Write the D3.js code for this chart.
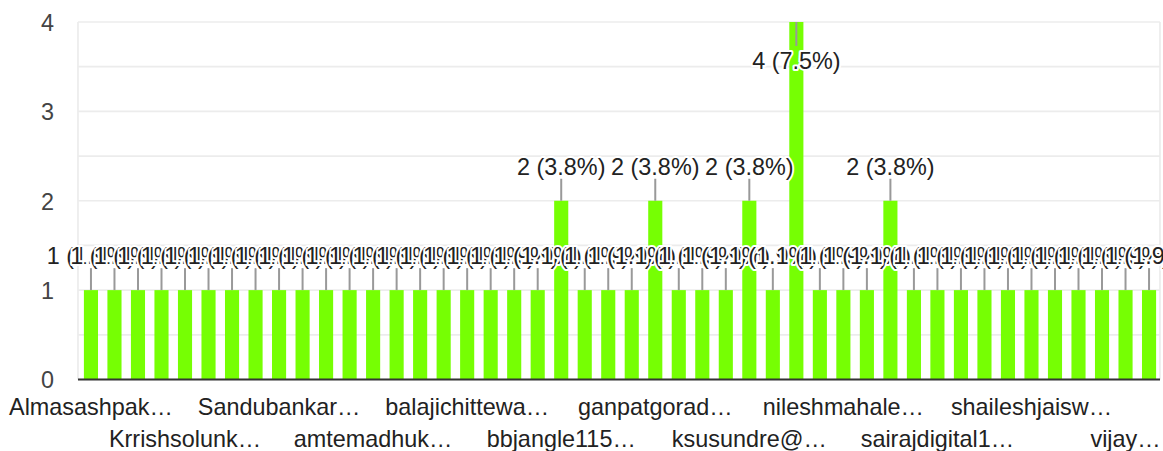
<!DOCTYPE html>
<html lang="en">
<head>
<meta charset="UTF-8">
<title>Responses</title>
<script src="https://d3js.org/d3.v7.min.js"></script>
<style>
  body { margin: 0; background: #fff; font-family: Arial, "Liberation Sans", Helvetica, sans-serif; }
  svg { display: block; }
</style>
</head>
<body>
<div id="chart"></div>
<script>
// one bar per respondent, sorted as in the form summary
var categories = [
  "Almasashpak…", "respondent 02", "respondent 03", "respondent 04",
  "Krrishsolunk…", "respondent 06", "respondent 07", "respondent 08",
  "Sandubankar…", "respondent 10", "respondent 11", "respondent 12",
  "amtemadhuk…", "respondent 14", "respondent 15", "respondent 16",
  "balajichittewa…", "respondent 18", "respondent 19", "respondent 20",
  "bbjangle115…", "respondent 22", "respondent 23", "respondent 24",
  "ganpatgorad…", "respondent 26", "respondent 27", "respondent 28",
  "ksusundre@…", "respondent 30", "respondent 31", "respondent 32",
  "nileshmahale…", "respondent 34", "respondent 35", "respondent 36",
  "sairajdigital1…", "respondent 38", "respondent 39", "respondent 40",
  "shaileshjaisw…", "respondent 42", "respondent 43", "respondent 44",
  "vijay…", "respondent 46"
];
var values = [
  1, 1, 1, 1, 1, 1, 1, 1, 1, 1,
  1, 1, 1, 1, 1, 1, 1, 1, 1, 1,
  2, 1, 1, 1, 2, 1, 1, 1, 2, 1,
  4, 1, 1, 1, 2, 1, 1, 1, 1, 1,
  1, 1, 1, 1, 1, 1
];
var tickLabels = [
  "Almasashpak…", "Krrishsolunk…", "Sandubankar…", "amtemadhuk…",
  "balajichittewa…", "bbjangle115…", "ganpatgorad…", "ksusundre@…",
  "nileshmahale…", "sairajdigital1…", "shaileshjaisw…", "vijay…"
];
var yTicks = [0, 1, 2, 3, 4];

var W = 1163, H = 451;
var plotLeft = 78, plotRight = 1160, plotTop = 22, plotBottom = 379.5;
var fontSize = "23.4px";
var font = "Arial, 'Liberation Sans', sans-serif";

var data = categories.map(function(c, i) { return { name: c, value: values[i] }; });
var total = d3.sum(values);
var pct = d3.format(".1%");

var svg = d3.select("#chart").append("svg")
  .attr("width", W)
  .attr("height", H);

var x = d3.scaleBand()
  .domain(categories)
  .range([79.2, 1160.8])
  .paddingInner(0.4)
  .paddingOuter(0.2);

var y = d3.scaleLinear()
  .domain([0, 4])
  .range([plotBottom, plotTop]);

// gridlines every half unit
svg.append("g")
  .selectAll("line")
  .data(y.ticks(8))
  .enter().append("line")
    .attr("x1", plotLeft)
    .attr("x2", plotRight)
    .attr("y1", function(d) { return y(d); })
    .attr("y2", function(d) { return y(d); })
    .attr("stroke", "#ececec")
    .attr("stroke-width", 1.7);

// box sides
svg.append("g")
  .selectAll("line")
  .data([plotLeft, plotRight])
  .enter().append("line")
    .attr("x1", function(d) { return d; })
    .attr("x2", function(d) { return d; })
    .attr("y1", plotTop)
    .attr("y2", plotBottom)
    .attr("stroke", "#ececec")
    .attr("stroke-width", 1.7);

// y axis labels
var yAxis = svg.append("g")
  .attr("transform", "translate(" + (plotLeft - 24) + ",0)")
  .call(d3.axisLeft(y).tickValues(yTicks).tickSize(0).tickPadding(0).tickFormat(d3.format("d")));
yAxis.select(".domain").remove();
yAxis.selectAll("text")
  .attr("fill", "#444")
  .attr("dy", "0.36em")
  .style("font-size", fontSize)
  .style("font-family", font);

// bars
svg.append("g")
  .selectAll("rect")
  .data(data)
  .enter().append("rect")
    .attr("x", function(d) { return x(d.name); })
    .attr("y", function(d) { return y(d.value); })
    .attr("width", x.bandwidth())
    .attr("height", function(d) { return plotBottom - y(d.value); })
    .attr("fill", "#76ff03");

// x axis, labels on every 4th bar in two staggered rows
var shown = categories.filter(function(c) { return tickLabels.indexOf(c) >= 0; });
var xAxis = svg.append("g")
  .attr("transform", "translate(0," + plotBottom + ")")
  .call(d3.axisBottom(x).tickValues(shown).tickSize(0).tickPadding(0));
xAxis.select(".domain").remove();
xAxis.selectAll("text")
  .attr("fill", "#222")
  .attr("y", function(d, i) { return i % 2 === 0 ? 35.5 : 67.5; })
  .attr("dy", 0)
  .style("font-size", fontSize)
  .style("font-family", font);

svg.append("line")
  .attr("x1", plotLeft)
  .attr("x2", plotRight)
  .attr("y1", plotBottom)
  .attr("y2", plotBottom)
  .attr("stroke", "#333")
  .attr("stroke-width", 2);

// value labels with leader lines; a bar too tall gets its label inside
function inside(d) { return y(d.value) - 30 < plotTop; }

var labels = svg.append("g")
  .selectAll("g")
  .data(data)
  .enter().append("g")
    .attr("transform", function(d) { return "translate(" + (x(d.name) + x.bandwidth() / 2) + "," + y(d.value) + ")"; });

labels.append("line")
  .attr("x1", 0)
  .attr("x2", 0)
  .attr("y1", 0)
  .attr("y2", function(d) { return inside(d) ? 24 : -22; })
  .attr("stroke", "#999")
  .attr("stroke-width", 2);

labels.append("text")
  .attr("text-anchor", "middle")
  .attr("y", function(d) { return inside(d) ? 47 : -26; })
  .attr("fill", "#222")
  .attr("stroke", "#fff")
  .attr("stroke-width", 4)
  .attr("stroke-linejoin", "round")
  .attr("paint-order", "stroke")
  .style("font-size", fontSize)
  .style("font-family", font)
  .text(function(d) { return d.value + " (" + pct(d.value / total) + ")"; });
</script>
</body>
</html>
